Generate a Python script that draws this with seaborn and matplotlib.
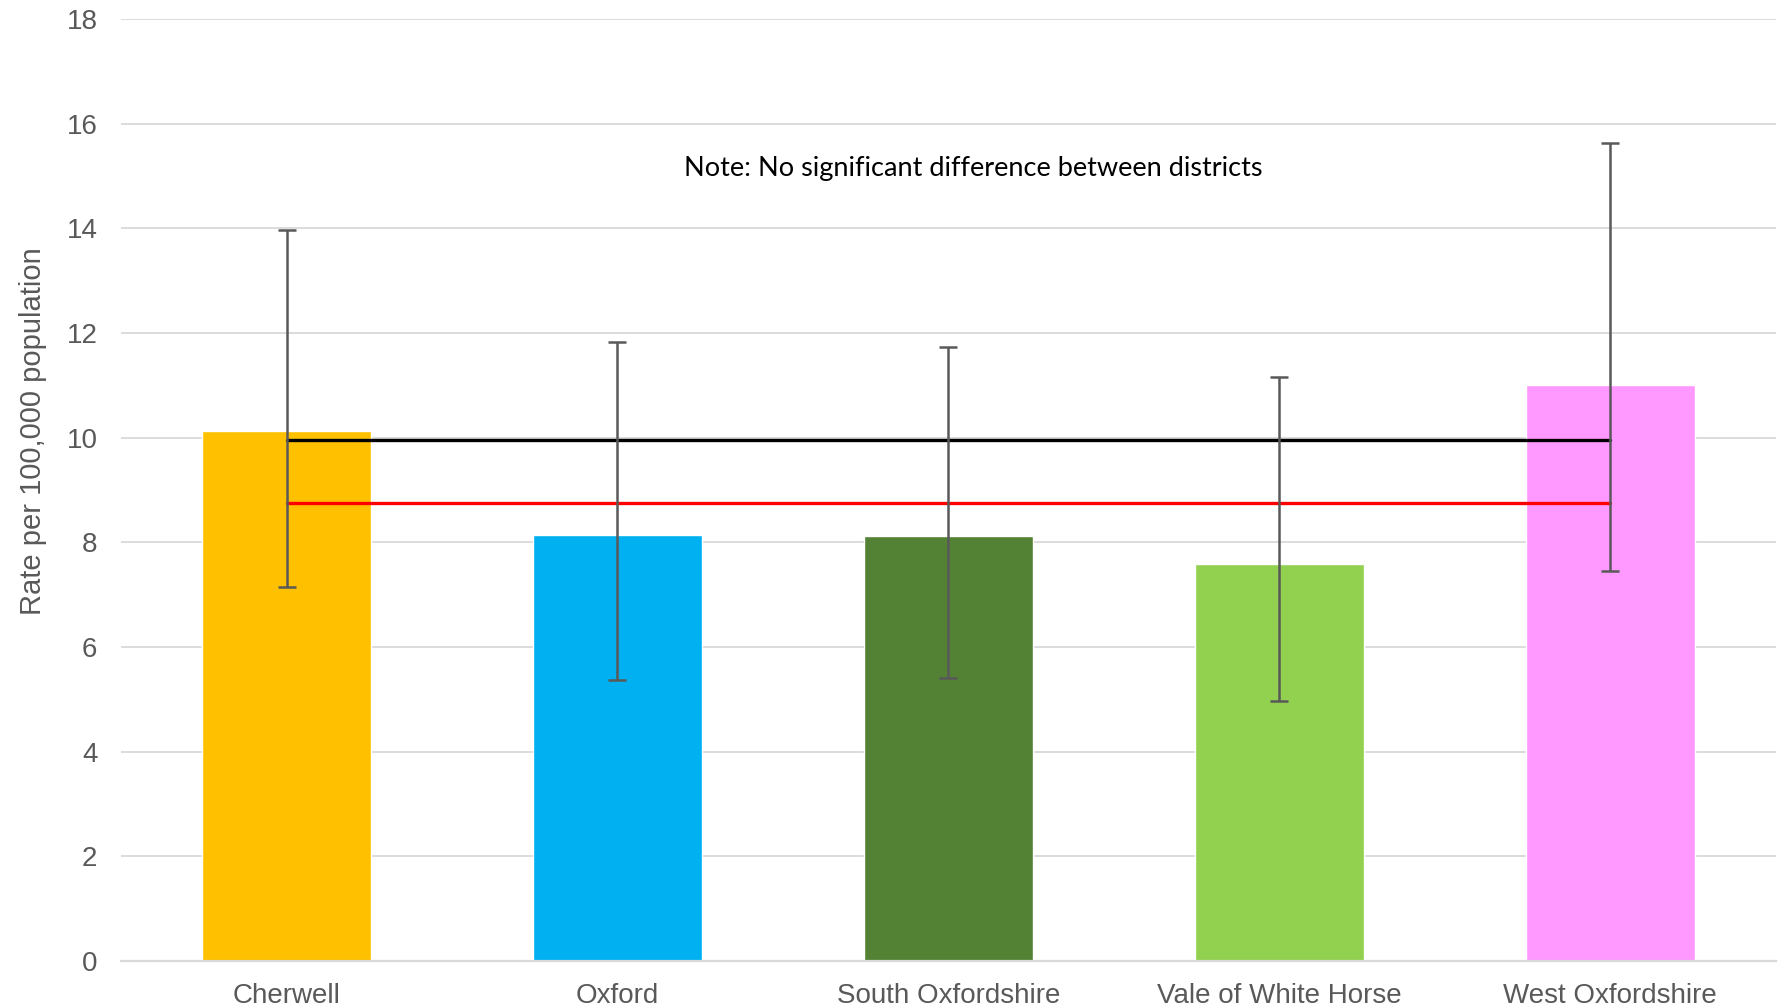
import numpy as np
import pandas as pd
import seaborn as sns
import matplotlib.pyplot as plt

# values
districts = ["Cherwell", "Oxford", "South Oxfordshire", "Vale of White Horse", "West Oxfordshire"]
rates = [10.13, 8.15, 8.13, 7.59, 11.0]
ci_lower = [7.15, 5.37, 5.41, 4.96, 7.46]
ci_upper = [13.98, 11.83, 11.74, 11.17, 15.63]
bar_colors = ["#FFC000", "#00B0F0", "#548235", "#92D050", "#FF99FF"]
england_rate = 9.96
oxfordshire_rate = 8.76
yticks = list(range(0, 19, 2))
note = "Note: No significant difference between districts"

df = pd.DataFrame({"district": districts, "rate": rates})

sns.set_style("white")
plt.rcParams["font.family"] = ["Liberation Sans", "DejaVu Sans"]

fig = plt.figure(figsize=(17.81, 10.08), dpi=100)
ax = fig.add_axes([0.068, 0.0466, 0.929, 0.9344])

sns.barplot(data=df, x="district", y="rate", hue="district",
            palette=bar_colors, width=0.51, saturation=1, legend=False, ax=ax)

x = np.arange(len(districts))
lo = np.array(rates) - np.array(ci_lower)
hi = np.array(ci_upper) - np.array(rates)

# reference lines
ax.plot([x[0], x[-1]], [england_rate, england_rate], color="black", lw=2.4, zorder=4)
ax.plot([x[0], x[-1]], [oxfordshire_rate, oxfordshire_rate], color="#FF0000", lw=2.4, zorder=4)

ax.errorbar(x, rates, yerr=[lo, hi], fmt="none", ecolor="#595959",
            elinewidth=1.8, capsize=6.5, capthick=1.8, zorder=5)

ax.set_xlim(-0.5, len(districts) - 0.5)
ax.set_ylim(0, 18)
ax.set_yticks(yticks)
ax.yaxis.grid(True, color="#D9D9D9", lw=1.3)
ax.set_axisbelow(True)
for s in ["top", "right", "left"]:
    ax.spines[s].set_visible(False)
ax.spines["bottom"].set_color("#D9D9D9")
ax.spines["bottom"].set_linewidth(1.6)

ax.tick_params(axis="both", length=0, labelsize=20, labelcolor="#595959")
ax.tick_params(axis="x", pad=16)
ax.tick_params(axis="y", pad=17)
ax.set_xlabel("")
ax.set_ylabel("Rate per 100,000 population", fontsize=21, color="#595959")
ax.yaxis.set_label_coords(-0.045, 0.563)

ax.text(0.515, 0.841, note, transform=ax.transAxes, ha="center", va="center",
        fontsize=19.5, color="black", family=["Lato", "DejaVu Sans"])

fig.savefig("out.png", dpi=100)
